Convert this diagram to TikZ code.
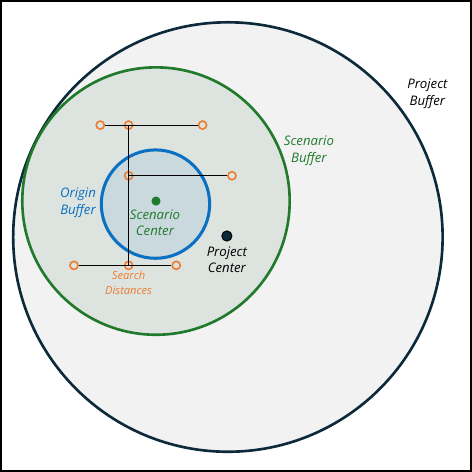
\documentclass[tikz,border=0pt]{standalone}
\usepackage{fontspec}
\setmainfont{Open Sans}
\usetikzlibrary{positioning}

\definecolor{navy}{HTML}{0D2A3A}
\definecolor{projfill}{HTML}{F2F2F2}
\definecolor{scengreen}{HTML}{217A2B}
\definecolor{scenfill}{HTML}{DDE3DE}
\definecolor{origblue}{HTML}{0A70C2}
\definecolor{origfill}{HTML}{C9D9DE}
\definecolor{searchorange}{HTML}{ED7D31}

\tikzset{
  label/.style={font=\fontsize{13}{16.5}\selectfont\itshape, align=center},
  searchpt/.style={circle, draw=searchorange, line width=1.6pt, minimum size=8pt, inner sep=0pt},
  distline/.style={line width=0.9pt, black}
}

\begin{document}
\begin{tikzpicture}[x=1pt,y=-1pt]

\useasboundingbox (0,0) rectangle (466,466);
\draw [line width=1.5pt] (0.75,0.75) rectangle (465.25,465.25);

% buffers
\node (ProjectBuf) [circle, draw=navy, fill=projfill, line width=2.6pt, minimum size=424pt] at (225,234) {};
\node (ScenarioBuf) [circle, draw=scengreen, fill=scenfill, line width=2.6pt, minimum size=264pt] at (154,198.5) {};
\node (OriginBuf) [circle, draw=origblue, fill=origfill, line width=3pt, minimum size=107pt] at (153.5,201.5) {};

% centers
\node (ScenarioCtr) [circle, fill=scengreen, minimum size=9pt, inner sep=0pt] at (154,198.5) {};
\node (ProjectCtr) [circle, fill=navy, draw=black, line width=1pt, minimum size=10pt, inner sep=0pt] at (224,233) {};

% search points
\node (TopL) [searchpt] at (99,123.5) {};
\node (TopM) [searchpt] at (127,123.5) {};
\node (TopR) [searchpt] at (200,123.5) {};
\node (MidM) [searchpt] at (127,173.5) {};
\node (MidR) [searchpt] at (229,173.5) {};
\node (BotL) [searchpt] at (73,262) {};
\node (BotM) [searchpt] at (127,262) {};
\node (BotR) [searchpt] at (174,262) {};

\draw [distline] (TopL.east) -- (TopR.west);
\draw [distline] (TopM.center) -- (BotM.center);
\draw [distline] (MidM.center) -- (MidR.west);
\draw [distline] (BotL.east) -- (BotR.west);

% labels
\node (ProjectBufLbl) [label, text=black] at (422,92.5) {Project\\Buffer};
\node (ScenarioBufLbl) [label, text=scengreen] at (305,149) {Scenario\\Buffer};
\node (OriginBufLbl) [label, text=origblue] at (77,200) {Origin\\Buffer};
\node (ScenarioCtrLbl) [label, text=scengreen] at (153,220) {Scenario\\Center};
\node (ProjectCtrLbl) [label, text=black] at (224,256.5) {Project\\Center};
\node (SearchLbl) [label, text=searchorange, font=\fontsize{11}{15}\selectfont\itshape] at (127,279.5) {Search\\Distances};

\end{tikzpicture}
\end{document}
